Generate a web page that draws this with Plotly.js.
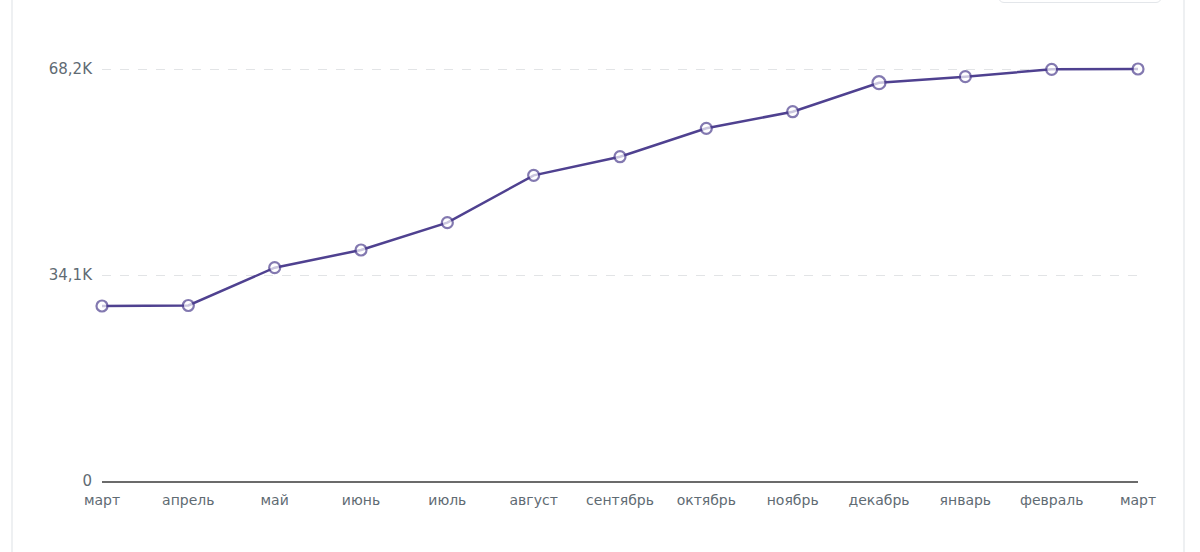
<!DOCTYPE html>
<html>
<head>
<meta charset="utf-8">
<script src="https://cdn.plot.ly/plotly-3.0.1.min.js"></script>
<style>
  html, body { margin: 0; padding: 0; background: #fff; }
  #wrap { position: relative; width: 1200px; height: 552px; overflow: hidden; }
  #chart { position: absolute; left: 0; top: 0; width: 1200px; height: 552px; }
  .vline { position: absolute; top: 0; height: 552px; width: 2px; background: #eef0f2; }
  #box { position: absolute; left: 998px; top: -20px; width: 162px; height: 21px;
         border: 1px solid #e3e6ea; border-radius: 6px; background: #fff; }
</style>
</head>
<body>
<div id="wrap">
  <div id="chart"></div>
  <div class="vline" style="left:11px"></div>
  <div class="vline" style="left:1183px"></div>
  <div id="box"></div>
</div>
<script>
const months = ['март','апрель','май','июнь','июль','август','сентябрь','октябрь','ноябрь','декабрь','январь','февраль','март'];
const values = [28970, 29050, 35310, 38240, 42760, 50600, 53680, 58380, 61130, 65930, 66930, 68150, 68200];
const yTickVals = [0, 34100, 68200];
const yTickText = ['0', '34,1K', '68,2K'];

const xIdx = months.map((m, i) => i);
const markerSizes = months.map((m, i) => i === 9 ? 13 : 11);

const trace = {
  x: xIdx,
  y: values,
  type: 'scatter',
  mode: 'lines+markers',
  line: { color: '#4f4190', width: 2.5 },
  marker: { size: markerSizes, color: '#ffffff', line: { color: '#4f4190', width: 2.2 } },
  hoverinfo: 'none',
  cliponaxis: false
};

const layout = {
  width: 1200,
  height: 552,
  margin: { l: 102, r: 62, t: 40, b: 71 },
  paper_bgcolor: 'rgba(0,0,0,0)',
  plot_bgcolor: 'rgba(0,0,0,0)',
  showlegend: false,
  font: { family: '"DejaVu Sans", sans-serif', color: '#5f6b73', size: 14 },
  xaxis: {
    range: [0, 12],
    tickmode: 'array',
    tickvals: xIdx,
    ticktext: months,
    showgrid: false,
    zeroline: false,
    showline: true,
    linecolor: '#6b6b6b',
    linewidth: 1.5,
    ticks: '',
    ticklabelstandoff: 6,
    tickfont: { size: 14, color: '#5f6b73' },
    fixedrange: true
  },
  yaxis: {
    range: [0, 73000],
    tickmode: 'array',
    tickvals: yTickVals,
    ticktext: yTickText,
    showgrid: true,
    gridcolor: '#e2e4e6',
    griddash: 'dash',
    gridwidth: 1,
    zeroline: false,
    showline: false,
    ticks: '',
    ticklabelstandoff: 9,
    tickfont: { size: 15, color: '#5f6b73' },
    fixedrange: true
  }
};

Plotly.newPlot('chart', [trace], layout, { displayModeBar: false, staticPlot: true });
</script>
</body>
</html>
